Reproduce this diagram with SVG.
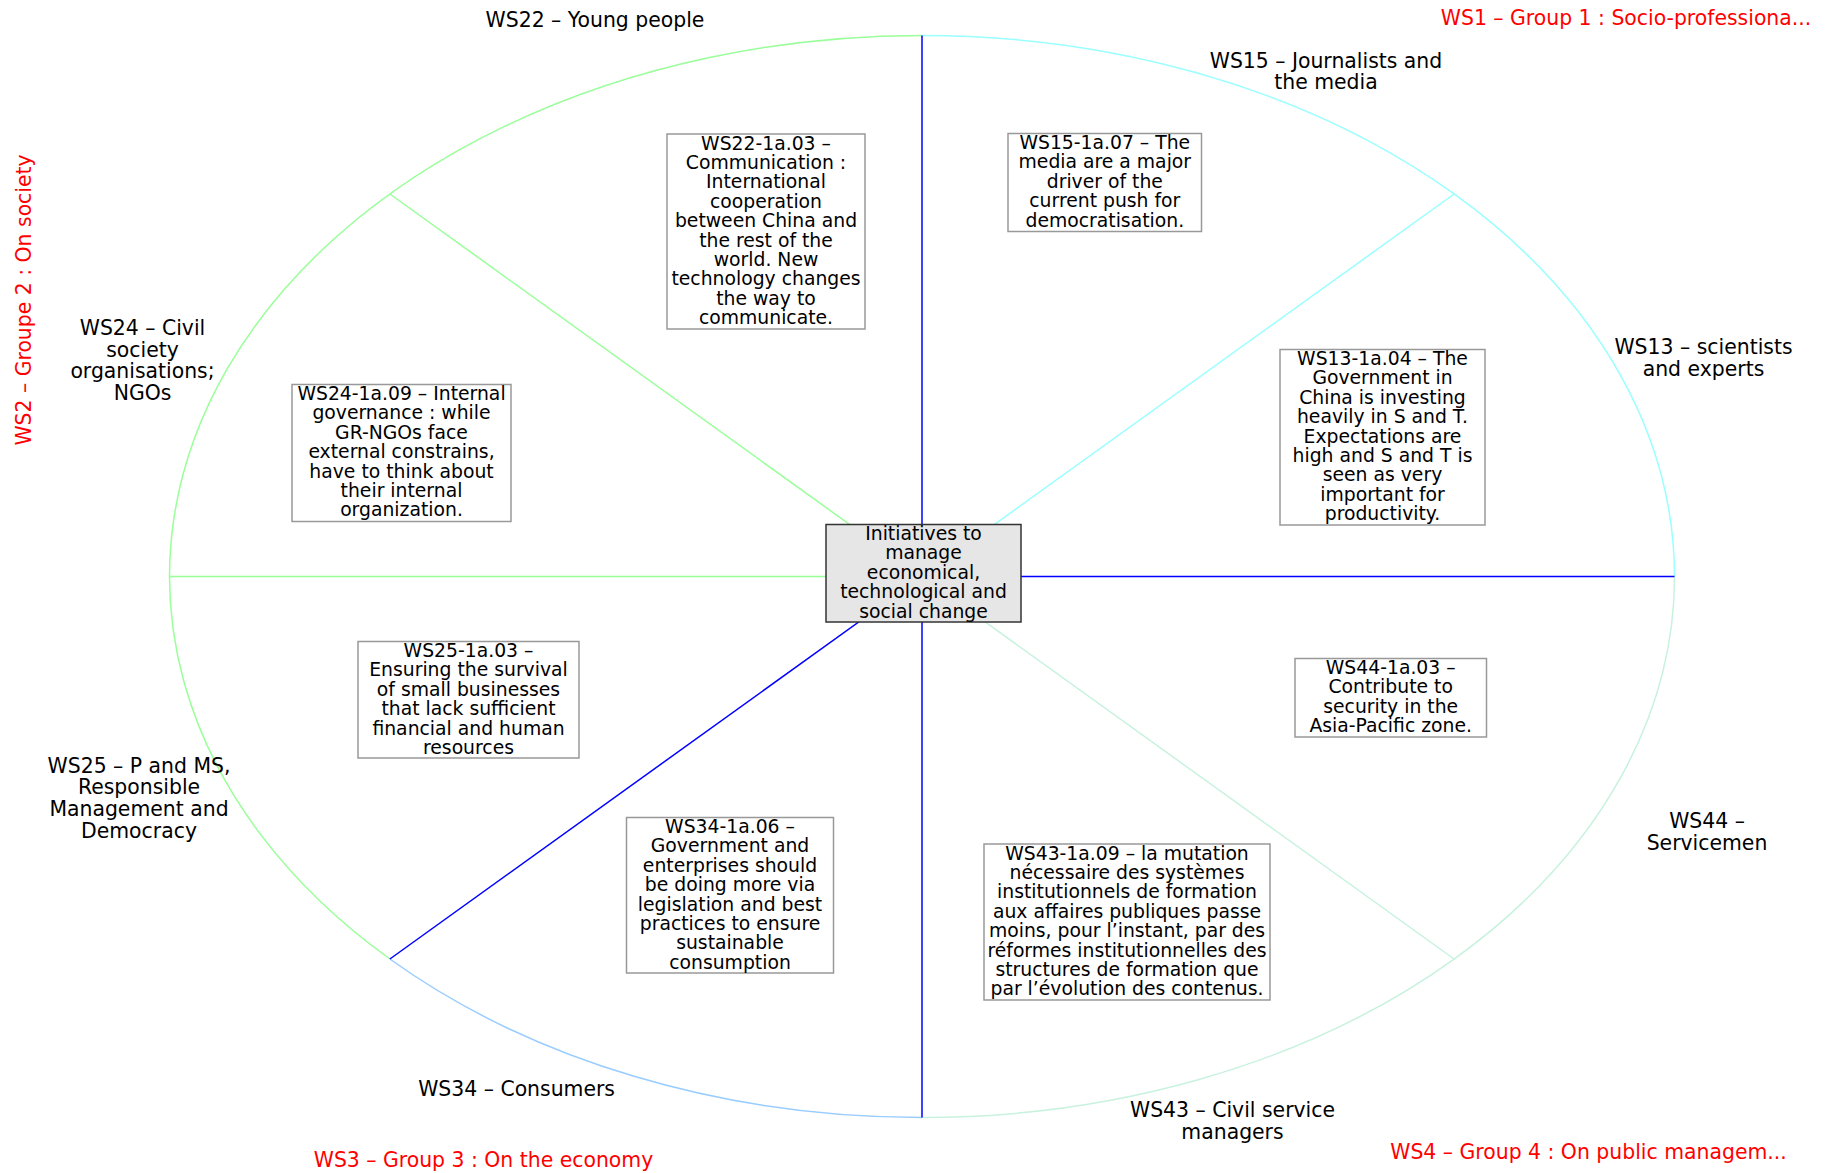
<svg xmlns="http://www.w3.org/2000/svg" width="1827" height="1173" viewBox="0 0 1827 1173">
<style>
text{font-family:"DejaVu Sans","Noto Sans",sans-serif;fill:#000}
.lbl{font-size:20.4px;text-anchor:middle}
.grp{font-size:20.4px;text-anchor:middle;fill:#ff0000}
.bt{font-size:18.8px;text-anchor:middle}
.box{fill:#fff;stroke:#999;stroke-width:1.5}
.core{fill:#e6e6e6;stroke:#333;stroke-width:1.5}
.arc{fill:none;stroke-width:1.5}
.ln{fill:none;stroke-width:1.5}
</style>
<rect width="1827" height="1173" fill="#fff"/>
<g id="connectors">
<path class="arc" stroke="#99ffff" d="M922,35.5 A752.5,541 0 0 1 1674.5,576.5"/>
<path class="arc" stroke="#c8f2de" d="M1674.5,576.5 A752.5,541 0 0 1 922,1117.5"/>
<path class="arc" stroke="#99ccff" d="M922,1117.5 A752.5,541 0 0 1 389.9,959"/>
<path class="arc" stroke="#99ff99" d="M389.9,959 A752.5,541 0 0 1 922,35.5"/>
<line class="ln" stroke="#0000ff" x1="922" y1="576.5" x2="922" y2="35.5"/>
<line class="ln" stroke="#0000ff" x1="922" y1="576.5" x2="922" y2="1117.5"/>
<line class="ln" stroke="#0000ff" x1="922" y1="576.5" x2="1674.5" y2="576.5"/>
<line class="ln" stroke="#0000ff" x1="922" y1="576.5" x2="389.9" y2="959"/>
<line class="ln" stroke="#99ff99" x1="922" y1="576.5" x2="169.5" y2="576.5"/>
<line class="ln" stroke="#99ff99" x1="922" y1="576.5" x2="389.9" y2="194"/>
<line class="ln" stroke="#99ffff" x1="922" y1="576.5" x2="1454.1" y2="194"/>
<line class="ln" stroke="#c8f2de" x1="922" y1="576.5" x2="1454.1" y2="959"/>
</g>
<g id="group-labels">
<text class="grp" x="1626" y="25">WS1 – Group 1 : Socio-professiona...</text>
<text class="grp" x="31" y="300" transform="rotate(-90 31 300)">WS2 – Groupe 2 : On society</text>
<text class="grp" x="483.5" y="1167">WS3 – Group 3 : On the economy</text>
<text class="grp" x="1588.5" y="1159">WS4 – Group 4 : On public managem...</text>
</g>
<g id="ws22"><text class="lbl" x="595" y="26.5">WS22 – Young people</text></g>
<g id="ws15"><text class="lbl" x="1326"><tspan x="1326" y="67.5">WS15 – Journalists and</tspan><tspan x="1326" y="89">the media</tspan></text></g>
<g id="ws13"><text class="lbl" x="1703.5"><tspan x="1703.5" y="354">WS13 – scientists</tspan><tspan x="1703.5" y="375.5">and experts</tspan></text></g>
<g id="ws24"><text class="lbl" x="142.5"><tspan x="142.5" y="335">WS24 – Civil</tspan><tspan x="142.5" y="356.5">society</tspan><tspan x="142.5" y="378">organisations;</tspan><tspan x="142.5" y="399.5">NGOs</tspan></text></g>
<g id="ws25"><text class="lbl" x="139"><tspan x="139" y="772.5">WS25 – P and MS,</tspan><tspan x="139" y="794">Responsible</tspan><tspan x="139" y="815.5">Management and</tspan><tspan x="139" y="837.5">Democracy</tspan></text></g>
<g id="ws34"><text class="lbl" x="516.6" y="1095.5">WS34 – Consumers</text></g>
<g id="ws43"><text class="lbl" x="1232.5"><tspan x="1232.5" y="1117">WS43 – Civil service</tspan><tspan x="1232.5" y="1138.5">managers</tspan></text></g>
<g id="ws44"><text class="lbl" x="1707"><tspan x="1707" y="828">WS44 –</tspan><tspan x="1707" y="849.5">Servicemen</tspan></text></g>
<g id="n-ws22-1a03">
<rect class="box" x="667" y="134" width="198" height="195"/>
<text class="bt"><tspan x="766" y="149.5">WS22-1a.03 –</tspan><tspan x="766" dy="19.4">Communication :</tspan><tspan x="766" dy="19.4">International</tspan><tspan x="766" dy="19.4">cooperation</tspan><tspan x="766" dy="19.4">between China and</tspan><tspan x="766" dy="19.4">the rest of the</tspan><tspan x="766" dy="19.4">world. New</tspan><tspan x="766" dy="19.4">technology changes</tspan><tspan x="766" dy="19.4">the way to</tspan><tspan x="766" dy="19.4">communicate.</tspan></text>
</g>
<g id="n-ws15-1a07">
<rect class="box" x="1008" y="133.5" width="193.5" height="98"/>
<text class="bt"><tspan x="1104.8" y="149">WS15-1a.07 – The</tspan><tspan x="1104.8" dy="19.4">media are a major</tspan><tspan x="1104.8" dy="19.4">driver of the</tspan><tspan x="1104.8" dy="19.4">current push for</tspan><tspan x="1104.8" dy="19.4">democratisation.</tspan></text>
</g>
<g id="n-ws13-1a04">
<rect class="box" x="1280" y="349.5" width="205" height="175.5"/>
<text class="bt"><tspan x="1382.5" y="365">WS13-1a.04 – The</tspan><tspan x="1382.5" dy="19.4">Government in</tspan><tspan x="1382.5" dy="19.4">China is investing</tspan><tspan x="1382.5" dy="19.4">heavily in S and T.</tspan><tspan x="1382.5" dy="19.4">Expectations are</tspan><tspan x="1382.5" dy="19.4">high and S and T is</tspan><tspan x="1382.5" dy="19.4">seen as very</tspan><tspan x="1382.5" dy="19.4">important for</tspan><tspan x="1382.5" dy="19.4">productivity.</tspan></text>
</g>
<g id="n-ws24-1a09">
<rect class="box" x="292" y="384.5" width="219" height="137"/>
<text class="bt"><tspan x="401.5" y="400">WS24-1a.09 – Internal</tspan><tspan x="401.5" dy="19.4">governance : while</tspan><tspan x="401.5" dy="19.4">GR-NGOs face</tspan><tspan x="401.5" dy="19.4">external constrains,</tspan><tspan x="401.5" dy="19.4">have to think about</tspan><tspan x="401.5" dy="19.4">their internal</tspan><tspan x="401.5" dy="19.4">organization.</tspan></text>
</g>
<g id="n-core">
<rect class="core" x="826" y="524.5" width="195" height="97.5"/>
<text class="bt"><tspan x="923.5" y="540">Initiatives to</tspan><tspan x="923.5" dy="19.4">manage</tspan><tspan x="923.5" dy="19.4">economical,</tspan><tspan x="923.5" dy="19.4">technological and</tspan><tspan x="923.5" dy="19.4">social change</tspan></text>
</g>
<g id="n-ws25-1a03">
<rect class="box" x="358" y="641.5" width="221" height="116.5"/>
<text class="bt"><tspan x="468.5" y="657">WS25-1a.03 –</tspan><tspan x="468.5" dy="19.4">Ensuring the survival</tspan><tspan x="468.5" dy="19.4">of small businesses</tspan><tspan x="468.5" dy="19.4">that lack sufficient</tspan><tspan x="468.5" dy="19.4">financial and human</tspan><tspan x="468.5" dy="19.4">resources</tspan></text>
</g>
<g id="n-ws44-1a03">
<rect class="box" x="1295" y="658.5" width="191.5" height="78.5"/>
<text class="bt"><tspan x="1390.7" y="674">WS44-1a.03 –</tspan><tspan x="1390.7" dy="19.4">Contribute to</tspan><tspan x="1390.7" dy="19.4">security in the</tspan><tspan x="1390.7" dy="19.4">Asia-Pacific zone.</tspan></text>
</g>
<g id="n-ws34-1a06">
<rect class="box" x="626.5" y="817.5" width="207" height="155.5"/>
<text class="bt"><tspan x="730" y="833">WS34-1a.06 –</tspan><tspan x="730" dy="19.4">Government and</tspan><tspan x="730" dy="19.4">enterprises should</tspan><tspan x="730" dy="19.4">be doing more via</tspan><tspan x="730" dy="19.4">legislation and best</tspan><tspan x="730" dy="19.4">practices to ensure</tspan><tspan x="730" dy="19.4">sustainable</tspan><tspan x="730" dy="19.4">consumption</tspan></text>
</g>
<g id="n-ws43-1a09">
<rect class="box" x="984" y="844" width="286" height="156"/>
<text class="bt"><tspan x="1127" y="859.5">WS43-1a.09 – la mutation</tspan><tspan x="1127" dy="19.4">nécessaire des systèmes</tspan><tspan x="1127" dy="19.4">institutionnels de formation</tspan><tspan x="1127" dy="19.4">aux affaires publiques passe</tspan><tspan x="1127" dy="19.4">moins, pour l’instant, par des</tspan><tspan x="1127" dy="19.4">réformes institutionnelles des</tspan><tspan x="1127" dy="19.4">structures de formation que</tspan><tspan x="1127" dy="19.4">par l’évolution des contenus.</tspan></text>
</g>
</svg>
